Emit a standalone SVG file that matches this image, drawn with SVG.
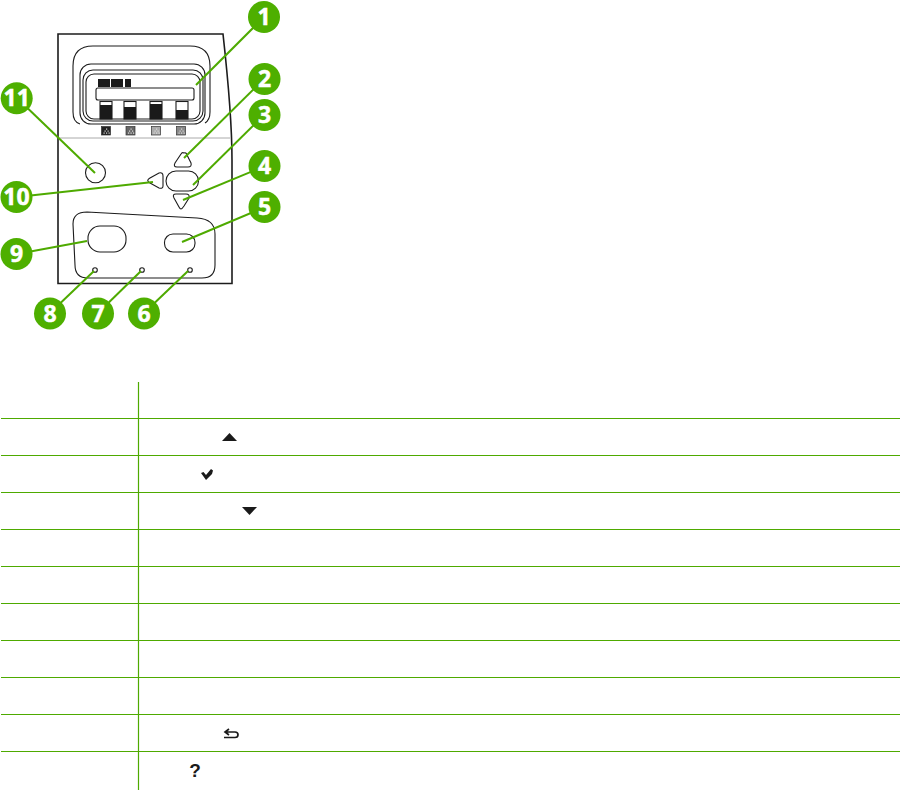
<svg xmlns="http://www.w3.org/2000/svg" width="901" height="791" viewBox="0 0 901 791">
<defs>
<g id="dots" fill="#ddd"><rect x="4" y="2" width="1.200" height="1.200"/><rect x="2.500" y="4" width="1.200" height="1.200"/><rect x="5.500" y="4" width="1.200" height="1.200"/><rect x="1.500" y="6" width="1.200" height="1.200"/><rect x="4" y="6" width="1.200" height="1.200"/><rect x="6.500" y="6" width="1.200" height="1.200"/></g>
</defs>
<style>
.o{fill:none;stroke:#1c1c1c;stroke-width:1.100}
.b{fill:#fff;stroke:#1c1c1c;stroke-width:1.100}
.k{fill:#1a1a1a}
.l{fill:none;stroke:#4eaa00;stroke-width:2}
.c{fill:#4eaf00}
.n{font-family:"Open Sans","Liberation Sans",sans-serif;font-weight:700;font-size:23px;fill:#fff;text-anchor:middle;stroke:#fff;stroke-width:.5}
.t{stroke:#4eaa00;stroke-width:1.200}
.q{stroke:#333;stroke-width:.7}
</style>
<g id="panel">
<path d="M58 34H223C227 70 232 120 232 160V283.500H58Z" fill="#fff" stroke="#1c1c1c" stroke-width="1.600"/>
<path d="M58 138H230" fill="none" stroke="#aaa" stroke-width="1"/>
<path d="M80 124Q73 122 73 112V66Q73 46 93 46H190Q210 46 210 66V112Q210 120 205 123" class="o"/>
<rect x="80" y="64" width="125" height="60" rx="11" class="o"/>
<rect x="83" y="70" width="120" height="51" rx="10" class="o"/>
<rect x="86" y="74" width="114" height="45" rx="8" class="b"/>
<rect x="98" y="79" width="12" height="8" class="k"/><rect x="111" y="79" width="12" height="8" class="k"/><rect x="125" y="79" width="6" height="8" class="k"/>
<rect x="96" y="88" width="98" height="12" rx="2" class="b"/>
<rect x="100" y="101.500" width="12" height="17.500" class="b"/><rect x="100" y="105" width="12" height="14" class="k"/>
<rect x="124" y="101.500" width="12" height="17.500" class="b"/><rect x="124" y="107" width="12" height="12" class="k"/>
<rect x="150" y="101.500" width="12" height="17.500" class="b"/><rect x="150" y="104" width="12" height="15" class="k"/>
<rect x="176" y="101.500" width="12" height="17.500" class="b"/><rect x="176" y="110" width="12" height="9" class="k"/>
<rect x="101.500" y="126.500" width="9" height="8.500" fill="#222" class="q"/><use href="#dots" x="102" y="126.500"/>
<rect x="126" y="126.500" width="9" height="8.500" fill="#666" class="q"/><use href="#dots" x="126.500" y="126.500"/>
<rect x="151.500" y="126.500" width="9" height="8.500" fill="#aaa" class="q"/><use href="#dots" x="152" y="126.500"/>
<rect x="176.500" y="126.500" width="9" height="8.500" fill="#888" class="q"/><use href="#dots" x="177" y="126.500"/>
<path d="M73 224Q73 212 87 212L197 218Q215 219 215 234V265Q215 278 202 278H88Q75 278 75 265Z" class="o"/>
</g>
<g id="button-11"><circle cx="95.500" cy="172.800" r="10" class="o"/></g>
<g id="button-2"><path d="M184 153Q186 152 187 155L191 163Q192 167 188 167H177Q173 167 175 163L181 154Q182 152 184 153Z" class="o"/></g>
<g id="button-3"><rect x="166" y="171" width="32.500" height="20" rx="10" class="o"/></g>
<g id="button-4"><path d="M181 209Q182 209 184 206L189 198Q190 194 186 194H176Q172 194 174 198L179 207Q180 209 181 209Z" class="o"/></g>
<g id="button-10"><path d="M148 181Q147 180 150 178L159 173Q163 172 163 176V186Q163 189 159 188L150 183Q148 182 148 181Z" class="o"/></g>
<g id="button-9"><rect x="88" y="226" width="38" height="26" rx="12" class="o"/></g>
<g id="button-5"><rect x="164.500" y="234" width="30.500" height="18" rx="8.500" class="o"/></g>
<g id="led-8"><circle cx="95" cy="270" r="2.300" class="o"/></g>
<g id="led-7"><circle cx="142" cy="270" r="2.300" class="o"/></g>
<g id="led-6"><circle cx="190" cy="270" r="2.300" class="o"/></g>
<g id="connectors">
<path class="l" d="M264 17L196 85"/>
<path class="l" d="M264 79L184 158"/>
<path class="l" d="M264 115L193 185"/>
<path class="l" d="M265 166L183 200"/>
<path class="l" d="M265 207L182 242"/>
<path class="l" d="M144 313L188 271"/>
<path class="l" d="M98 313L141 271"/>
<path class="l" d="M50 313L94 271"/>
<path class="l" d="M17 254L87 241"/>
<path class="l" d="M17 197L153 182"/>
<path class="l" d="M17 98L95 173"/>
</g>
<g id="callout-1"><circle class="c" cx="264" cy="17" r="16"/><text class="n" x="264" y="25">1</text></g>
<g id="callout-2"><circle class="c" cx="264.500" cy="79" r="16"/><text class="n" x="264.500" y="87">2</text></g>
<g id="callout-3"><circle class="c" cx="264.500" cy="115" r="16"/><text class="n" x="264.500" y="123">3</text></g>
<g id="callout-4"><circle class="c" cx="264.500" cy="166" r="16"/><text class="n" x="264.500" y="174">4</text></g>
<g id="callout-5"><circle class="c" cx="264.500" cy="207" r="16"/><text class="n" x="264.500" y="215">5</text></g>
<g id="callout-6"><circle class="c" cx="144" cy="313.500" r="16"/><text class="n" x="144" y="321.500">6</text></g>
<g id="callout-7"><circle class="c" cx="98" cy="313.500" r="16"/><text class="n" x="98" y="321.500">7</text></g>
<g id="callout-8"><circle class="c" cx="50" cy="313.500" r="16"/><text class="n" x="50" y="321.500">8</text></g>
<g id="callout-9"><circle class="c" cx="16.500" cy="254" r="16"/><text class="n" x="16.500" y="262">9</text></g>
<g id="callout-10"><circle class="c" cx="16.500" cy="197" r="16"/><text class="n" x="16.500" y="205">10</text></g>
<g id="callout-11"><circle class="c" cx="16.700" cy="98.300" r="16"/><text class="n" x="16.700" y="106.300">11</text></g>
<g id="table">
<path class="t" d="M138.500 382V790M1 418.500H900M1 455.500H900M1 492.500H900M1 529.500H900M1 566.500H900M1 603.500H900M1 640.500H900M1 677.500H900M1 714.500H900M1 751.500H900"/>
<path class="k" d="M229.500 433L237 441H222Z"/>
<path class="k" d="M201 473L203.500 472L206 475L211 469L213 470.500L212 474L206 480Z"/>
<path class="k" d="M242 507H257L249.500 515Z"/>
<path d="M229 729L225 732L229 735M225 732H235Q238 732 238 734.800Q238 737.500 235 737.500H224" fill="none" stroke="#1a1a1a" stroke-width="1.700"/>
<text x="195" y="777" font-family="'Liberation Sans',sans-serif" font-weight="700" font-size="19" text-anchor="middle" fill="#1a1a1a">?</text>
</g>
</svg>
